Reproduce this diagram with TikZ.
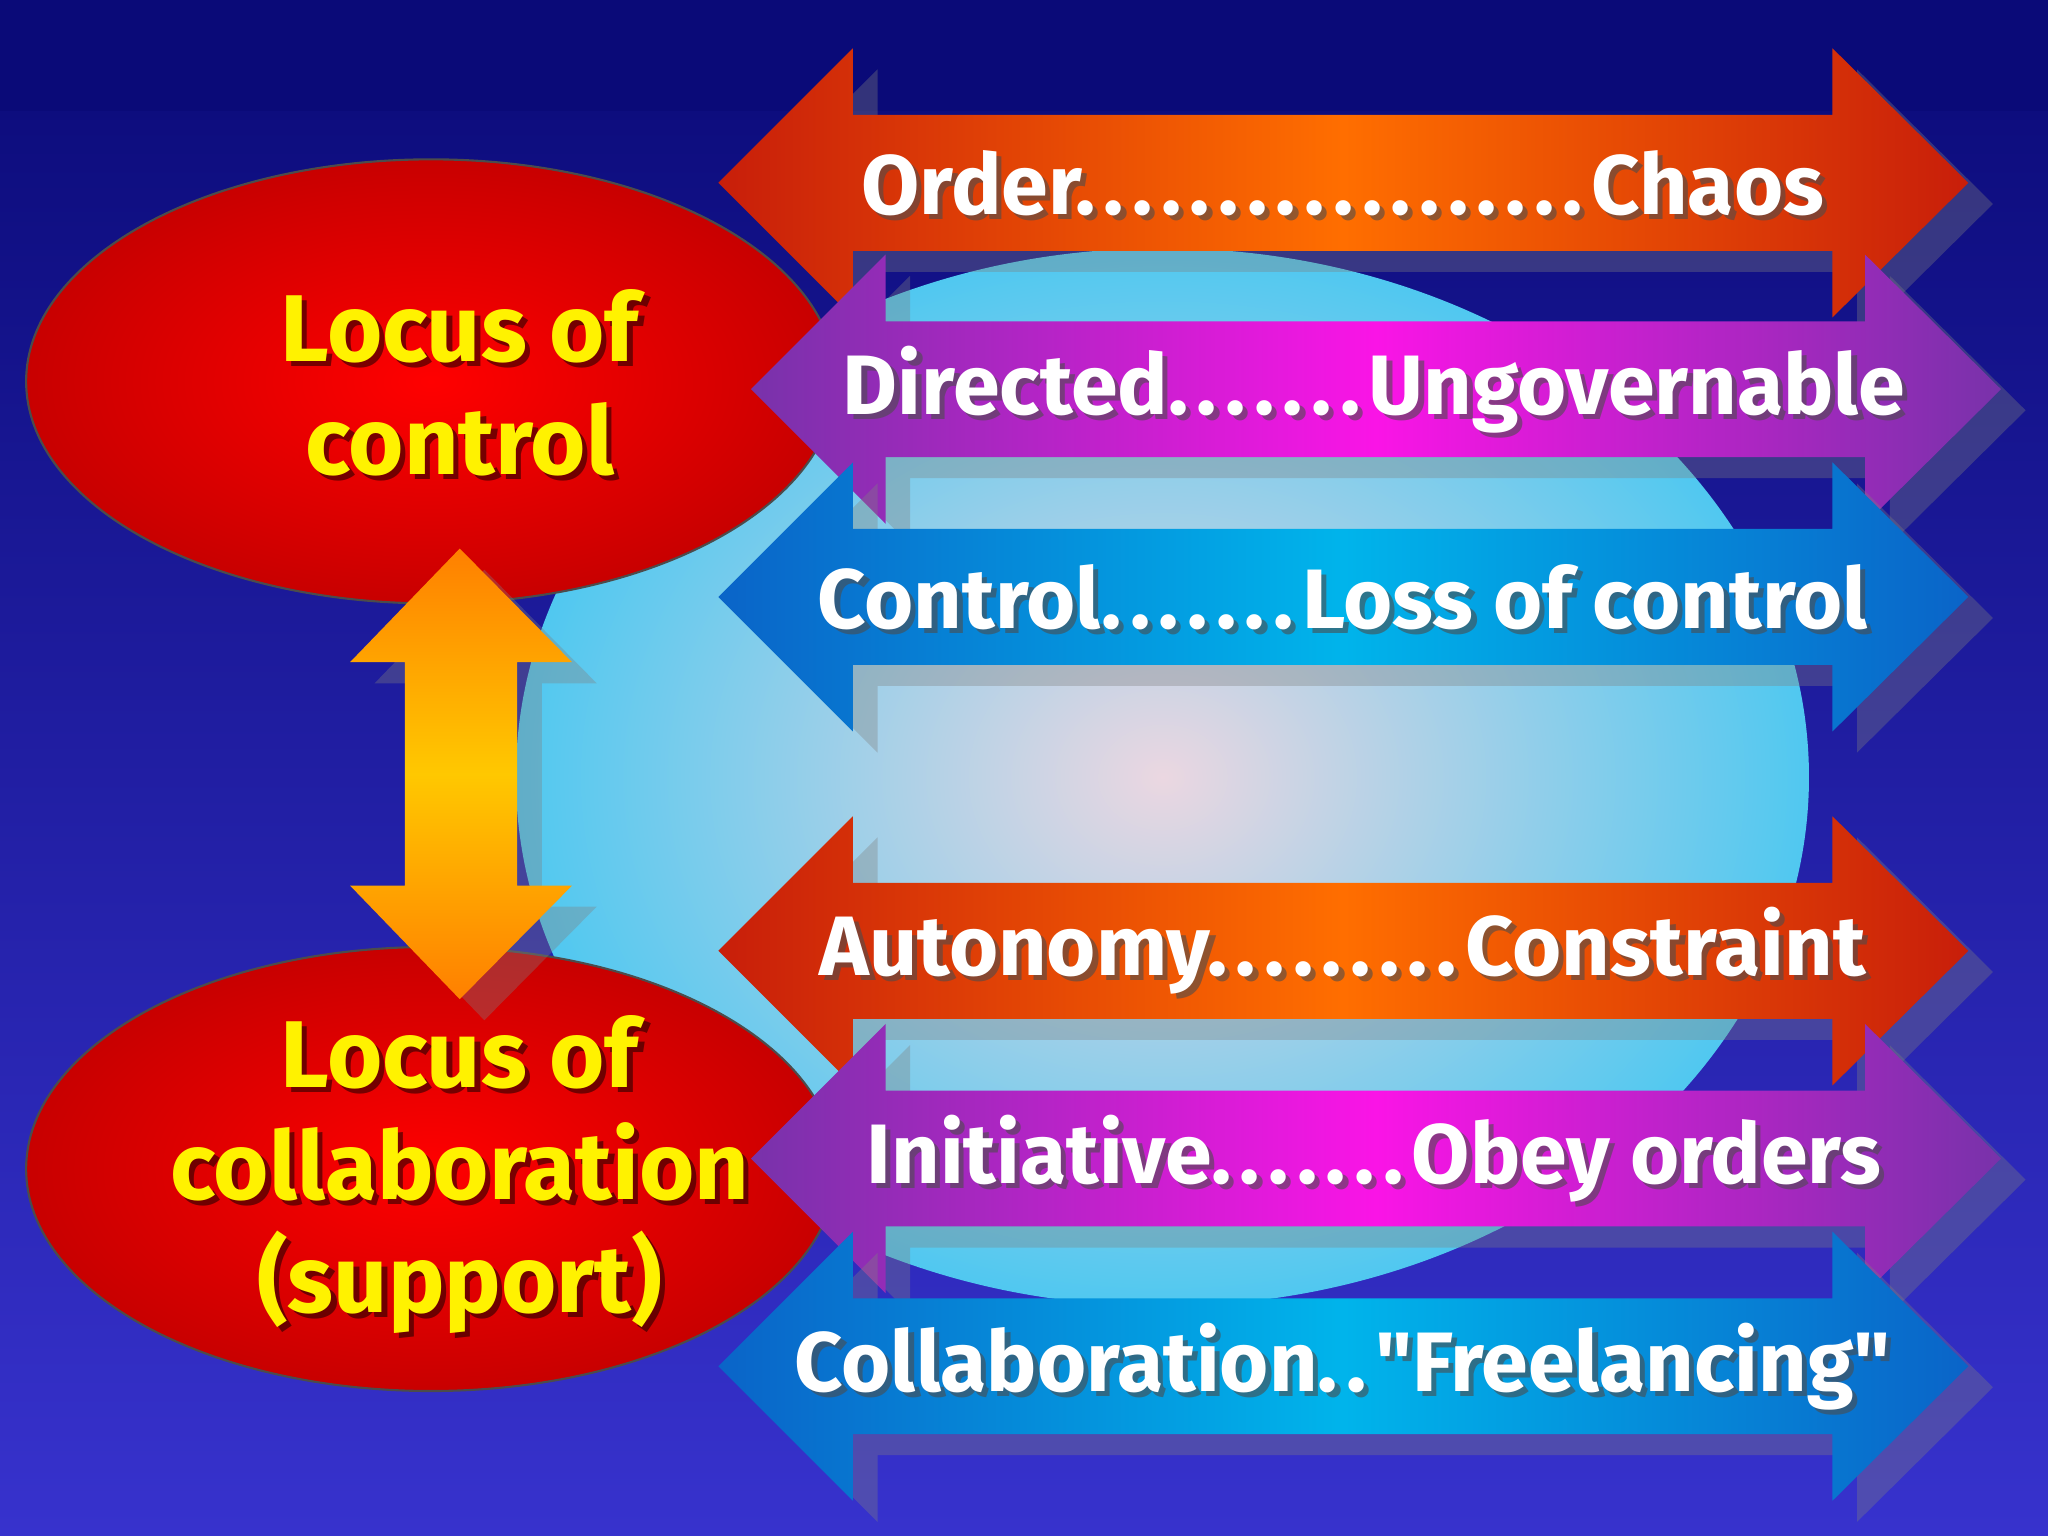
\documentclass[tikz,border=0pt]{standalone}
\usepackage{fontspec}
\setmainfont{Fira Sans}
\usetikzlibrary{shadows,shadings}
\tikzset{
 harrow/.style={draw=none,drop shadow={shadow xshift=7pt,shadow yshift=-6pt,opacity=0.35}},
 lbl/.style={font=\fontsize{24}{28}\bfseries\selectfont,text=white},
 lblsh/.style={font=\fontsize{24}{28}\bfseries\selectfont,text=black!70,opacity=0.6},
 ylbl/.style={font=\fontsize{27}{32}\bfseries\selectfont,text=yellow,align=center},
}
\newcommand\dt{.\kern0.1em}
\definecolor{bgtop}{RGB}{10,10,120}
\definecolor{bgbot}{RGB}{55,50,205}
\begin{document}
\begin{tikzpicture}[x=0.01306cm,y=-0.01306cm]
\useasboundingbox (0,0) rectangle (1568,1176);
\shade[top color=bgtop,bottom color=bgbot] (0,0) rectangle (1568,1176);
\fill[bgtop] (0,0) rectangle (1568,85);
% light ellipse
\shade[inner color={rgb,255:red,235;green,215;blue,225},outer color={rgb,255:red,80;green,200;blue,240}] (890,595) ellipse [x radius=495,y radius=405];
% red ellipses
\shade[draw=black!70,line width=0.6pt,inner color=red,outer color={rgb,255:red,200;green,0;blue,0}] (330,292) ellipse [x radius=310,y radius=170];
\shade[draw=black!70,line width=0.6pt,inner color=red,outer color={rgb,255:red,200;green,0;blue,0}] (330,895) ellipse [x radius=310,y radius=170];
% vertical arrow
\shade[top color=orange,bottom color=orange,middle color={rgb,255:red,255;green,200;blue,0},drop shadow={shadow xshift=7pt,shadow yshift=-6pt,opacity=0.35}]
 (352,420) -- (438,507) -- (396,507) -- (396,678) -- (438,678) -- (352,765) -- (268,678) -- (310,678) -- (310,507) -- (268,507) -- cycle;
% horizontal arrows
\newcommand\harr[5]{% y, dx, left, middle, right
 \shade[harrow,left color=#3,right color=#5,middle color=#4]
 (550+#2,#1) -- (653+#2,#1-103) -- (653+#2,#1-52) -- (1403+#2,#1-52) -- (1403+#2,#1-103) -- (1507+#2,#1) -- (1403+#2,#1+103) -- (1403+#2,#1+52) -- (653+#2,#1+52) -- (653+#2,#1+103) -- cycle;}
\definecolor{ored}{RGB}{200,30,10}\definecolor{oor}{RGB}{255,110,0}
\definecolor{pdk}{RGB}{120,50,170}\definecolor{pmg}{RGB}{250,20,230}
\definecolor{bdk}{RGB}{10,100,200}\definecolor{bcy}{RGB}{0,180,235}
\harr{140}{0}{ored}{oor}{ored}
\harr{298}{25}{pdk}{pmg}{pdk}
\harr{457}{0}{bdk}{bcy}{bdk}
\harr{728}{0}{ored}{oor}{ored}
\harr{887}{25}{pdk}{pmg}{pdk}
\harr{1046}{0}{bdk}{bcy}{bdk}
% labels
\newcommand\lab[3]{\node[lblsh] at (#1+4,#2+4) {#3}; \node[lbl] (#1n#2) at (#1,#2) {#3};}
\lab{1028}{140}{Order\dt\dt\dt\dt\dt\dt\dt\dt\dt\dt\dt\dt\dt\dt\dt\dt\dt\dt Chaos}
\lab{1052}{298}{Directed\dt\dt\dt\dt\dt\dt\dt Ungovernable}
\lab{1028}{457}{Control\dt\dt\dt\dt\dt\dt\dt Loss of control}
\lab{1028}{728}{Autonomy\dt\dt\dt\dt\dt\dt\dt\dt\dt Constraint}
\lab{1052}{887}{Initiative\dt\dt\dt\dt\dt\dt\dt Obey orders}
\lab{1028}{1046}{Collaboration\dt\dt\textquotedbl Freelancing\textquotedbl}
\node[ylbl,text=black,opacity=0.5] at (356,297) {Locus of\\control};
\node[ylbl] (l1) at (352,293) {Locus of\\control};
\node[ylbl,text=black,opacity=0.5] at (356,903) {Locus of\\collaboration\\(support)};
\node[ylbl] (l2) at (352,899) {Locus of\\collaboration\\(support)};
\end{tikzpicture}
\end{document}
